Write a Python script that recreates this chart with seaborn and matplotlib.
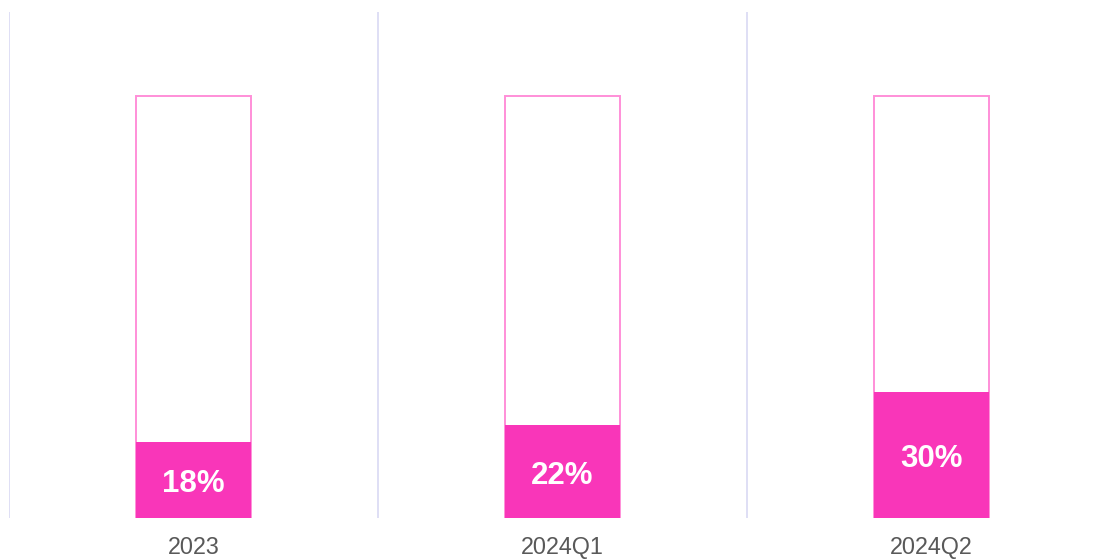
import matplotlib
matplotlib.use("Agg")
import matplotlib.pyplot as plt
import seaborn as sns
import pandas as pd

categories = ["2023", "2024Q1", "2024Q2"]
values = [0.18, 0.22, 0.30]
labels = ["18%", "22%", "30%"]
totals = [1.0, 1.0, 1.0]

sns.set_theme(style="white")
plt.rcParams['font.family'] = ['Liberation Sans', 'DejaVu Sans']

fig = plt.figure(figsize=(11.09, 5.6), dpi=100)
ax = fig.add_axes([9/1109, 42/560, 1107/1109, 506/560])

df = pd.DataFrame({"cat": categories, "val": values, "tot": totals})

sns.barplot(data=df, x="cat", y="tot", ax=ax, color="white", width=0.314,
            edgecolor="#FF8FD8", linewidth=1.4, saturation=1)
sns.barplot(data=df, x="cat", y="val", ax=ax, color="#F936B9", width=0.314,
            linewidth=0, saturation=1)

for i, (v, lab) in enumerate(zip(values, labels)):
    ax.text(i, v / 2 - 0.01, lab, ha="center", va="center", color="white",
            fontsize=22.5, fontweight="bold")

for xs in [-0.5, 0.5, 1.5, 2.5]:
    ax.axvline(xs, color="#DCDCF5", linewidth=1.3, zorder=0)

ax.set_xlim(-0.5, 2.5)
ax.set_ylim(0, 1.2)
ax.set_xlabel("")
ax.set_ylabel("")
ax.set_yticks([])
ax.tick_params(axis="x", length=0, pad=13, labelsize=16.8, labelcolor="#595959")
for s in ax.spines.values():
    s.set_visible(False)

fig.savefig("out.png", dpi=100)
